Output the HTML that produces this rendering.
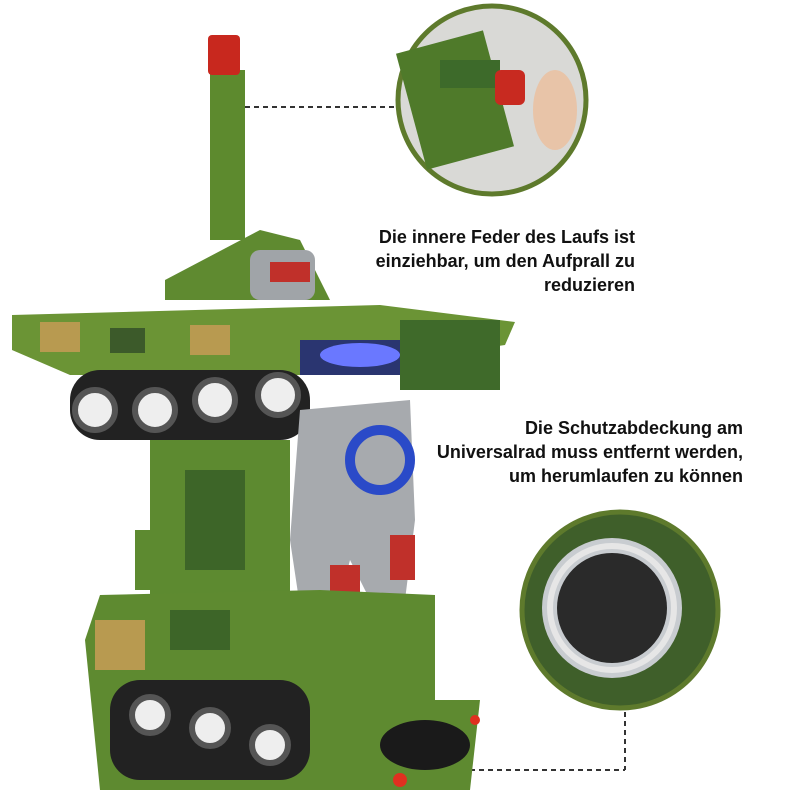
<!DOCTYPE html>
<html><head><meta charset="utf-8"><style>
body{margin:0;background:#fff;width:800px;height:800px;overflow:hidden;position:relative;font-family:"Liberation Sans",sans-serif}
.t{position:absolute;font-weight:bold;font-size:18px;line-height:24px;text-align:right;color:#111;white-space:nowrap}
</style></head><body>
<svg width="800" height="800" style="position:absolute;left:0;top:0">
<line x1="245" y1="107" x2="400" y2="107" stroke="#333" stroke-width="2" stroke-dasharray="5,4"/>
<line x1="470" y1="770" x2="625" y2="770" stroke="#333" stroke-width="2" stroke-dasharray="5,4"/>
<line x1="625" y1="712" x2="625" y2="770" stroke="#333" stroke-width="2" stroke-dasharray="5,4"/>
<circle cx="492" cy="100" r="94" fill="#d9d9d6" stroke="#5e7a2c" stroke-width="5"/>
<rect x="410" y="40" width="90" height="120" fill="#4f7a2a" transform="rotate(-15 455 100)"/>
<rect x="440" y="60" width="60" height="28" fill="#3d6a2a"/>
<rect x="495" y="70" width="30" height="35" rx="6" fill="#c82a20"/>
<ellipse cx="555" cy="110" rx="22" ry="40" fill="#e8c4a8"/>
<circle cx="620" cy="610" r="98" fill="#3f5f2a" stroke="#5e7a2c" stroke-width="5"/>
<circle cx="612" cy="608" r="70" fill="#c8ccd0"/>
<circle cx="612" cy="608" r="55" fill="#2a2a2a"/>
<circle cx="612" cy="608" r="62" fill="none" stroke="#e6e6e6" stroke-width="6"/>
<rect x="210" y="70" width="35" height="170" fill="#5d8a2e"/>
<rect x="208" y="35" width="32" height="40" rx="4" fill="#c8281e"/>
<polygon points="165,280 260,230 300,240 330,300 165,300" fill="#5f8a30"/>
<polygon points="12,315 380,305 515,322 505,345 300,375 70,375 12,350" fill="#6b9435"/>
<rect x="40" y="322" width="40" height="30" fill="#b89a50"/>
<rect x="110" y="328" width="35" height="25" fill="#3c5a2a"/>
<rect x="190" y="325" width="40" height="30" fill="#b89a50"/>
<rect x="300" y="340" width="110" height="35" fill="#2a3570"/>
<ellipse cx="360" cy="355" rx="40" ry="12" fill="#6a78ff"/>
<rect x="250" y="250" width="65" height="50" rx="10" fill="#a0a4a8"/>
<rect x="270" y="262" width="40" height="20" fill="#c0302a"/>
<rect x="70" y="370" width="240" height="70" rx="30" fill="#222"/>
<g fill="#eee" stroke="#555" stroke-width="6">
<circle cx="95" cy="410" r="20"/><circle cx="155" cy="410" r="20"/><circle cx="215" cy="400" r="20"/><circle cx="278" cy="395" r="20"/></g>
<rect x="400" y="320" width="100" height="70" fill="#3f6a2a"/>
<rect x="150" y="440" width="140" height="160" fill="#5d8a30"/>
<rect x="185" y="470" width="60" height="100" fill="#3d6528"/>
<rect x="135" y="530" width="35" height="60" fill="#5d8a30"/>
<polygon points="300,410 410,400 415,520 405,600 370,600 350,560 330,640 305,640 290,540" fill="#a7aaae"/>
<circle cx="380" cy="460" r="30" fill="none" stroke="#2a4ac8" stroke-width="10"/>
<rect x="330" y="565" width="30" height="40" fill="#c0302a"/>
<rect x="390" y="535" width="25" height="45" fill="#c0302a"/>
<polygon points="100,595 320,590 435,595 435,700 480,700 470,790 100,790 85,640" fill="#5e8a30"/>
<rect x="95" y="620" width="50" height="50" fill="#b89a50"/>
<rect x="170" y="610" width="60" height="40" fill="#3d6528"/>
<rect x="110" y="680" width="200" height="100" rx="30" fill="#222"/>
<g fill="#eee" stroke="#555" stroke-width="6">
<circle cx="150" cy="715" r="18"/><circle cx="210" cy="728" r="18"/><circle cx="270" cy="745" r="18"/></g>
<ellipse cx="425" cy="745" rx="45" ry="25" fill="#1a1a1a"/>
<circle cx="400" cy="780" r="7" fill="#e03020"/>
<circle cx="475" cy="720" r="5" fill="#e03020"/>
</svg>
<div class="t" style="right:165px;top:225px">Die innere Feder des Laufs ist<br>einziehbar, um den Aufprall zu<br>reduzieren</div>
<div class="t" style="right:57px;top:416px">Die Schutzabdeckung am<br>Universalrad muss entfernt werden,<br>um herumlaufen zu können</div>
</body></html>
